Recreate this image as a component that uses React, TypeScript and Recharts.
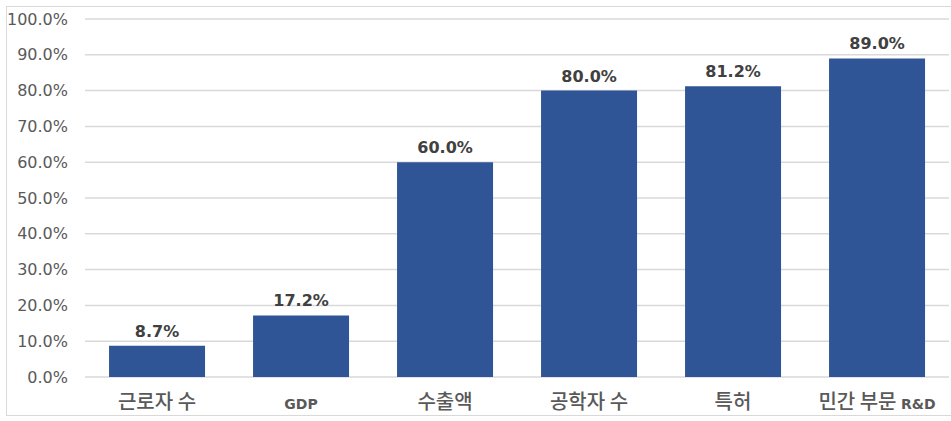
import { BarChart, Bar, XAxis, YAxis, CartesianGrid, LabelList } from 'recharts'

const categories = ['근로자 수', 'GDP', '수출액', '공학자 수', '특허', '민간 부문 R&D']
const shares = [8.7, 17.2, 60.0, 80.0, 81.2, 89.0]
const yTicks = [0, 10, 20, 30, 40, 50, 60, 70, 80, 90, 100]

const data = categories.map((name, i) => ({ name, value: shares[i] }))

const KR_FONT = '"Noto Sans CJK KR", "Noto Sans", sans-serif'
const NUM_FONT = '"DejaVu Sans", Verdana, sans-serif'

// latin parts of the category names are set smaller and bolder, like the source
const CategoryTick = ({ x, y, payload }: any) => {
    const parts = String(payload.value).split(/([A-Za-z&]+)/).filter((p) => p !== '')
    return (
        <text x={x} y={y + 24} textAnchor="middle" fill="#595959">
            {parts.map((p, i) =>
                /[A-Za-z]/.test(p) ? (
                    <tspan key={i} fontSize={14} fontWeight={700} fontFamily={NUM_FONT}>{p}</tspan>
                ) : (
                    <tspan key={i} fontSize={20} fontWeight={500} fontFamily={KR_FONT}>{p}</tspan>
                )
            )}
        </text>
    )
}

export default function App() {
    return (
        <div style={{ position: 'absolute', left: 0, top: 0, width: 951, height: 421, background: '#fff' }}>
            <div
                style={{
                    position: 'absolute',
                    left: 6,
                    top: 6,
                    width: 950,
                    height: 410,
                    border: '1px solid #d9d9d9',
                    boxSizing: 'border-box'
                }}
            />
            <BarChart
                width={951}
                height={421}
                data={data}
                margin={{ top: 19, right: 2, left: 0, bottom: 0 }}
                barCategoryGap="16.7%"
                style={{ position: 'absolute', left: 0, top: 0 }}
            >
                <CartesianGrid vertical={false} stroke="#d9d9d9" strokeWidth={1.5} />
                <XAxis
                    dataKey="name"
                    height={44}
                    axisLine={false}
                    tickLine={false}
                    tick={<CategoryTick />}
                    interval={0}
                />
                <YAxis
                    width={85}
                    domain={[0, 100]}
                    ticks={yTicks}
                    axisLine={false}
                    tickLine={false}
                    tickSize={0}
                    tickMargin={17}
                    tick={{ fill: '#595959', fontSize: 16, fontFamily: NUM_FONT }}
                    tickFormatter={(v: number) => `${v.toFixed(1)}%`}
                />
                <Bar dataKey="value" fill="#2F5597" isAnimationActive={false}>
                    <LabelList
                        dataKey="value"
                        position="top"
                        offset={9}
                        formatter={(v: any) => `${Number(v).toFixed(1)}%`}
                        style={{ fill: '#404040', fontSize: 16, fontWeight: 700, fontFamily: NUM_FONT }}
                    />
                </Bar>
            </BarChart>
        </div>
    )
}
